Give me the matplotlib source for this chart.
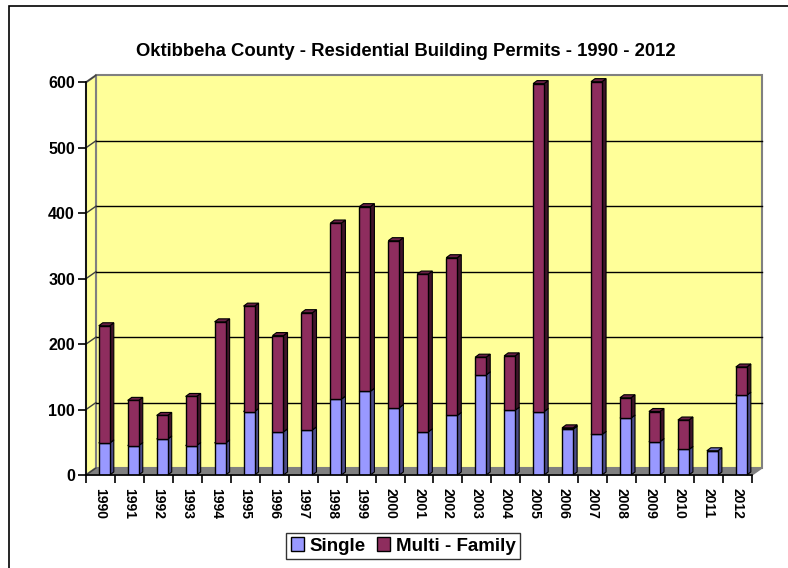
import matplotlib
matplotlib.use("Agg")
import matplotlib.pyplot as plt
from matplotlib.patches import Polygon, Rectangle
import numpy as np

years = [str(y) for y in range(1990, 2013)]
single = [49, 45, 55, 45, 49, 97, 66, 69, 116, 128, 103, 66, 91, 153, 99, 97, 70, 62, 87, 51, 39, 37, 122]
multi = [179, 69, 36, 75, 185, 161, 147, 179, 269, 282, 255, 241, 241, 27, 83, 501, 2, 539, 31, 46, 45, 0, 43]
y_ticks = [0, 100, 200, 300, 400, 500, 600]

plt.rcParams["font.family"] = ["Liberation Sans", "DejaVu Sans"]

fig = plt.figure(figsize=(7.88, 5.68), dpi=100)
# outer chart border
fig.add_artist(Rectangle((9 / 788, -0.1), 1.1, 1.1 - 6 / 568, transform=fig.transFigure,
                         fill=False, edgecolor="black", linewidth=1.2))

ax = fig.add_axes([86 / 788, (568 - 475) / 568, 666 / 788, 392.7 / 568])
n = len(years)
x = np.arange(n)
ax.set_xlim(-0.5, n - 0.5)
ax.set_ylim(0, 600)

# 3-D depth offset of the back wall (data units)
ddx, ddy = 0.345, 10.7
x0, x1 = -0.5, n - 0.5
top = 600

wall_kw = dict(clip_on=False, zorder=0.5)
ax.add_patch(Polygon([(x0 + ddx, ddy), (x1 + ddx, ddy), (x1 + ddx, top + ddy), (x0 + ddx, top + ddy)],
                     facecolor="#FFFF99", edgecolor="#808080", linewidth=1.5, **wall_kw))
ax.add_patch(Polygon([(x0, 0), (x0 + ddx, ddy), (x0 + ddx, top + ddy), (x0, top)],
                     facecolor="#FFFF99", edgecolor="#808080", linewidth=1.5, **wall_kw))
ax.add_patch(Polygon([(x0, 0), (x1, 0), (x1 + ddx, ddy), (x0 + ddx, ddy)],
                     facecolor="#808080", edgecolor="#808080", linewidth=1, **wall_kw))
for v in y_ticks[1:-1]:
    ax.plot([x0 + ddx, x1 + ddx], [v + ddy, v + ddy], color="black", linewidth=1, clip_on=False, zorder=0.6)
for v in y_ticks:
    ax.plot([x0, x0 + ddx], [v, v + ddy], color="#404040", linewidth=1, clip_on=False, zorder=0.6)

# bars
w = 0.38
off = 0.13
bdx, bdy = 0.14, 4.6
series = [
    (single, np.zeros(n), "#9999FF", "#4C4C88", "#7070C0", "Single"),
    (multi, np.array(single), "#8E2D5E", "#40142A", "#6A2046", "Multi - Family"),
]
for vals, base, face, side, topc, label in series:
    vals = np.array(vals)
    ax.bar(x + off, vals, w, bottom=base, color=face, edgecolor="black", linewidth=1, zorder=3, label=label)
    for xi, b, v in zip(x + off, base, vals):
        if v <= 0:
            continue
        r = xi + w / 2
        l = xi - w / 2
        ax.add_patch(Polygon([(r, b), (r + bdx, b + bdy), (r + bdx, b + v + bdy), (r, b + v)],
                             facecolor=side, edgecolor="black", linewidth=0.8, zorder=2.9, clip_on=False))
        ax.add_patch(Polygon([(l, b + v), (r, b + v), (r + bdx, b + v + bdy), (l + bdx, b + v + bdy)],
                             facecolor=topc, edgecolor="black", linewidth=0.8, zorder=2.9, clip_on=False))

ax.set_facecolor("none")
for s in ["top", "right"]:
    ax.spines[s].set_visible(False)
ax.spines["left"].set_linewidth(1.2)
ax.spines["bottom"].set_linewidth(1.2)
ax.spines["left"].set_zorder(4)
ax.spines["bottom"].set_zorder(4)

ax.set_yticks(y_ticks)
ax.set_yticklabels([str(v) for v in y_ticks], fontsize=11.5, fontweight="bold")
ax.tick_params(axis="y", length=6, width=1.2, pad=2)
ax.set_xticks(x)
ax.set_xticklabels(years, rotation=-90, fontsize=10, fontweight="bold")
ax.tick_params(axis="x", length=0, pad=9)
ax.set_xticks(np.arange(n + 1) - 0.5, minor=True)
ax.tick_params(axis="x", which="minor", length=6, width=1.2)

fig.text(406 / 788, 1 - 52 / 568, "Oktibbeha County - Residential Building Permits - 1990 - 2012",
         ha="center", va="center", fontsize=13.3, fontweight="bold")

leg = fig.legend(loc="center", bbox_to_anchor=(403 / 788, 1 - 546 / 568), ncol=2,
                 prop={"size": 13.5, "weight": "bold"}, frameon=True, fancybox=False,
                 edgecolor="black", handlelength=0.7, handleheight=0.7, handletextpad=0.3,
                 columnspacing=0.6, borderpad=0.25)
leg.get_frame().set_linewidth(1)

fig.savefig("out.png", dpi=100)
